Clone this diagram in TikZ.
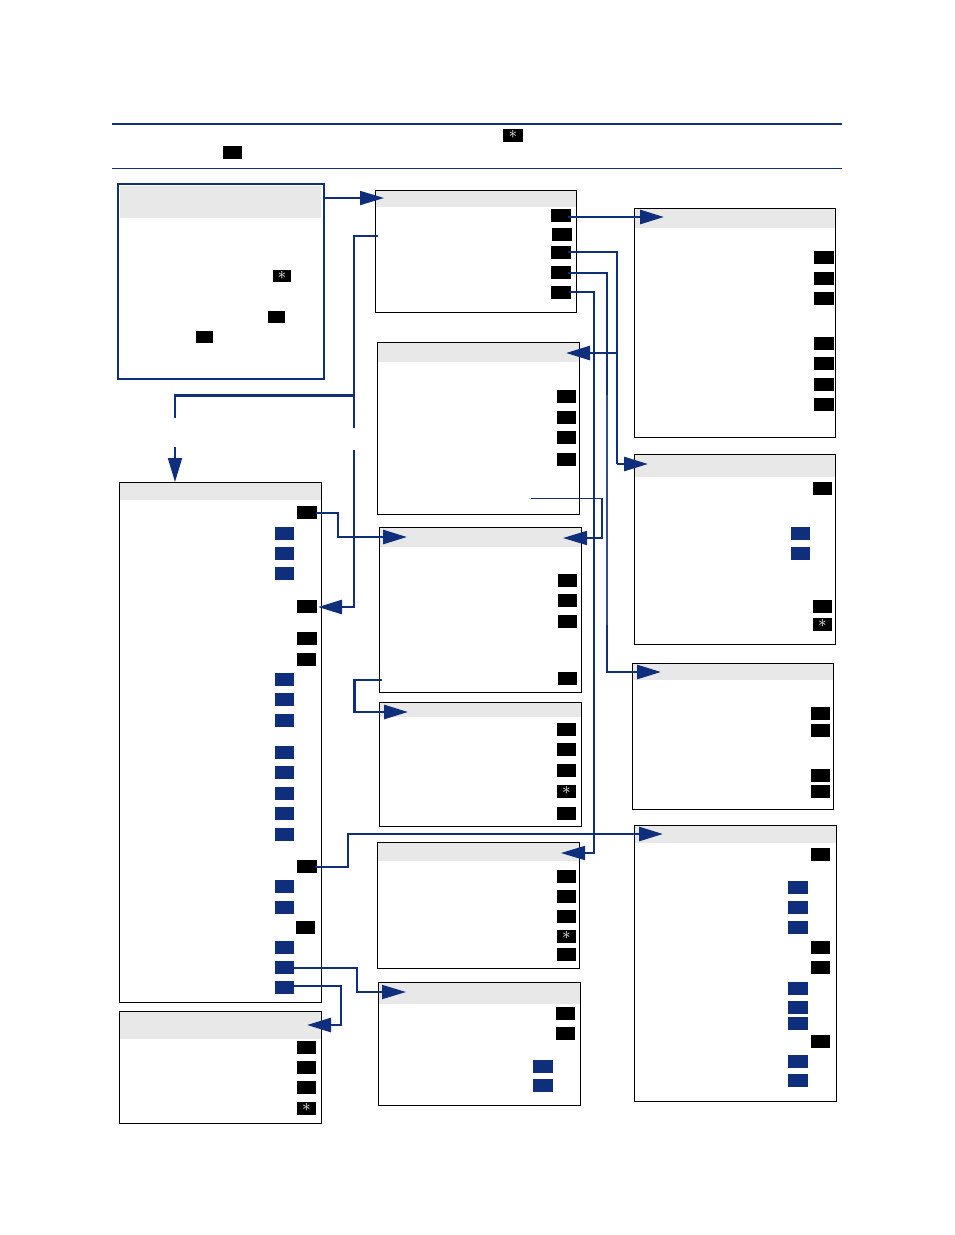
\documentclass[tikz,border=0pt]{standalone}
\usetikzlibrary{arrows.meta}
\definecolor{navy}{HTML}{0F2F7C}
\definecolor{hdr}{HTML}{E8E8E8}
\tikzset{
  x=1pt,y=-1pt,
  keybase/.style={rectangle,inner sep=0pt,outer sep=0pt,minimum width=19.5pt,minimum height=13pt},
  blackkey/.style={keybase,fill=black},
  smallkey/.style={keybase,fill=black,minimum width=17pt,minimum height=12pt},
  bluekey/.style={keybase,fill=navy},
  starkey/.style={keybase,fill=black,text=white,font=\fontsize{19}{19}\selectfont},
  panel/.style={rectangle,draw=black,line width=1pt,inner sep=0pt,outer sep=0pt},
  bigpanel/.style={rectangle,draw=navy,line width=2pt,inner sep=0pt,outer sep=0pt},
  header/.style={rectangle,fill=hdr,inner sep=0pt,outer sep=0pt},
  wire/.style={draw=navy,line width=2.7pt,line join=miter},
  thinwire/.style={draw=navy,line width=1.8pt,line join=miter},
  tip/.style={-{Triangle[length=24pt,width=14pt]}},
  rule/.style={draw=navy},
}
\newcommand{\kbk}[3]{\node[blackkey] (#1) at (#2,#3) {};}
\newcommand{\ksm}[3]{\node[smallkey] (#1) at (#2,#3) {};}
\newcommand{\kbl}[3]{\node[bluekey] (#1) at (#2,#3) {};}
\newcommand{\kst}[3]{\node[starkey] (#1) at (#2,#3) {\raisebox{0.2pt}{$\ast$}};}
% name x1 y1 x2 y2 headerbottom
\newcommand{\pnl}[6]{%
  \pgfmathsetmacro{\pw}{#4-#2}\pgfmathsetmacro{\ph}{#5-#3}%
  \pgfmathsetmacro{\hh}{#6-#3}%
  \pgfmathsetmacro{\cx}{(#2+#4)/2}\pgfmathsetmacro{\cy}{(#3+#5)/2}\pgfmathsetmacro{\hy}{(#3+#6)/2}%
  \node[header,minimum width=\pw pt,minimum height=\hh pt] (#1h) at (\cx,\hy) {};
  \node[panel,minimum width=\pw pt,minimum height=\ph pt] (#1) at (\cx,\cy) {};
}
\begin{document}
\begin{tikzpicture}
\useasboundingbox (0,0) rectangle (954,1235);
% rules
\coordinate (r1a) at (112,124); \coordinate (r1b) at (842,124);
\coordinate (r2a) at (112,168.5); \coordinate (r2b) at (842,168.5);
\draw[rule,line width=1.6pt] (r1a) -- (r1b);
\draw[rule,line width=1pt] (r2a) -- (r2b);
\kst{ts}{513}{135}
\kbk{tkey}{232.5}{152}
% intro box
\node[header,minimum width=201pt,minimum height=32pt] (ah) at (220.5,201.5) {};
\node[bigpanel,minimum width=206pt,minimum height=195pt] (a) at (221,281.5) {};
% panels
\pnl{b}{375.3}{190.3}{576.5}{312.3}{207}
\pnl{c}{377.3}{342.5}{579}{514}{362}
\pnl{d}{379.3}{527.5}{581}{692}{547}
\pnl{e}{379.3}{702.5}{581}{826}{717}
\pnl{f}{377.3}{842.5}{579}{968}{861}
\pnl{g}{378.3}{982.5}{580.3}{1105}{1004}
\pnl{h}{119.3}{482.5}{321.3}{1002}{500}
\pnl{i}{119.3}{1011.5}{321.3}{1123}{1039}
\pnl{j}{634.3}{208.5}{835}{437}{228}
\pnl{k}{634.3}{454.5}{835}{644}{477}
\pnl{l}{632.3}{663.5}{833}{809}{680}
\pnl{m}{634.3}{825.5}{836}{1101}{843}
% keys
\node[starkey,minimum width=18pt,minimum height=12pt] (a1) at (282,276) {\raisebox{0.2pt}{$\ast$}};
\ksm{a2}{276.7}{317}
\ksm{a3}{204.5}{337}
\kbk{b1}{561}{215}\kbk{b2}{562}{234}\kbk{b3}{561}{252}\kbk{b4}{561}{272}\kbk{b5}{561}{292}
\kbk{c1}{566.5}{396}\kbk{c2}{566.5}{417}\kbk{c3}{566.5}{437}\kbk{c4}{566.5}{459}
\kbk{d1}{567.5}{580}\kbk{d2}{567.5}{600}\kbk{d3}{567.5}{621}\kbk{d4}{567.5}{678}
\kbk{e1}{566.5}{729}\kbk{e2}{566.5}{749}\kbk{e3}{566.5}{770}\kst{e4}{566.5}{791}\kbk{e5}{566.5}{813}
\kbk{f1}{566.5}{876}\kbk{f2}{566.5}{896}\kbk{f3}{566.5}{916}\kst{f4}{566.5}{936}\kbk{f5}{566.5}{954}
\kbk{g1}{565.5}{1013}\kbk{g2}{565.5}{1033}\kbl{g3}{543}{1066}\kbl{g4}{543}{1085}
\kbk{h1}{307}{512}\kbl{h2}{284.5}{533}\kbl{h3}{284.5}{553}\kbl{h4}{284.5}{573}
\kbk{h5}{307}{606}\kbk{h6}{307}{638}\kbk{h7}{306.5}{659}
\kbl{h8}{284.5}{679}\kbl{h9}{284.5}{699}\kbl{h10}{284.5}{720}
\kbl{h11}{284.5}{752}\kbl{h12}{284.5}{772}\kbl{h13}{284.5}{793}\kbl{h14}{284.5}{813}\kbl{h15}{284.5}{834}
\kbk{h16}{307}{866}\kbl{h17}{284.5}{886}\kbl{h18}{284.5}{907}\kbk{h19}{305.5}{927}
\kbl{h20}{284.5}{947}\kbl{h21}{284.5}{967}\kbl{h22}{284.5}{987}
\kbk{i1}{306.5}{1047}\kbk{i2}{306.5}{1067}\kbk{i3}{306.5}{1087}\kst{i4}{306.5}{1108}
\kbk{j1}{824}{257}\kbk{j2}{824}{278}\kbk{j3}{824}{298}\kbk{j4}{824}{343}\kbk{j5}{824}{363}\kbk{j6}{824}{384}\kbk{j7}{824}{404}
\kbk{k1}{822.5}{488}\kbl{k2}{800.5}{533}\kbl{k3}{800.5}{553}\kbk{k4}{822.5}{606}\kst{k5}{822.5}{624}
\kbk{l1}{820.5}{713}\kbk{l2}{820.5}{730}\kbk{l3}{820.5}{775}\kbk{l4}{820.5}{791}
\kbk{m1}{820.5}{854}\kbl{m2}{798}{887}\kbl{m3}{798}{907}\kbl{m4}{798}{927}
\kbk{m5}{820.5}{947}\kbk{m6}{820.5}{967}
\kbl{m7}{798}{988}\kbl{m8}{798}{1007}\kbl{m9}{798}{1023}\kbk{m10}{820.5}{1041}\kbl{m11}{798}{1061}\kbl{m12}{798}{1080}
% connector helper points
\coordinate (tb) at (384,198);
\coordinate (sb) at (378,236);
\coordinate (jn1) at (354,395.5);
\coordinate (g1a) at (354,428);
\coordinate (g1b) at (354,450);
\coordinate (g2a) at (175,418);
\coordinate (g2b) at (175,447);
\coordinate (th) at (175,482);
\coordinate (th5) at (318,607);
\coordinate (tj) at (664,217);
\coordinate (tc) at (566,353);
\coordinate (tkk) at (648,464);
\coordinate (tl) at (661,672);
\coordinate (tf) at (561,853);
\coordinate (sc) at (531,498.5);
\coordinate (td) at (563,538);
\coordinate (tdl) at (407,537);
\coordinate (sd) at (382,680);
\coordinate (te) at (408,712);
\coordinate (tm) at (663,834);
\coordinate (tg) at (406,992);
\coordinate (ti) at (307,1025);
% connectors
\draw[thinwire,tip] (a.east |- tb) -- (tb);
\draw[wire] (sb) -| (g1a);
\draw[wire] (jn1) -| (g2a);
\draw[thinwire,tip] (g2b) -- (th);
\draw[wire,tip] (g1b) |- (th5);
\draw[wire,tip] ([xshift=-3pt,yshift=-2pt]b1.east) -- (tj);
\draw[wire] ([xshift=-3pt]b3.east) -- (617,252) -- (617,464);
\draw[wire,tip] (617,353) -- (tc);
\draw[wire,tip] (617,464) -- (tkk);
\draw[wire,tip] ([xshift=-3pt,yshift=-1pt]b4.east) -- (607,273) -- (607,672) -- (tl);
\draw[draw=navy!85,line width=2.6pt] (607,395) -- (607,625);
\draw[thinwire,tip] ([xshift=-2pt]b5.east) -- (594,292) -- (594,853) -- (tf);
\draw[thinwire,tip] (sc) -- (602,498.5) -- (602,538) -- (td);
\draw[wire,tip] ([xshift=-1pt,yshift=-1pt]h1.east) -- (338,513) -- (338,537) -- (tdl);
\draw[wire,tip] (sd) -- (354.5,680) -- (354.5,712) -- (te);
\draw[wire,tip] ([xshift=-2pt,yshift=-1pt]h16.east) -- (348,867) -- (348,834) -- (tm);
\draw[thinwire,tip] ([yshift=-1pt]h21.east) -- (357,968) -- (357,992) -- (tg);
\draw[wire,tip] ([yshift=1pt]h22.east) -- (341,986) -- (341,1025) -- (ti);
\end{tikzpicture}
\end{document}
